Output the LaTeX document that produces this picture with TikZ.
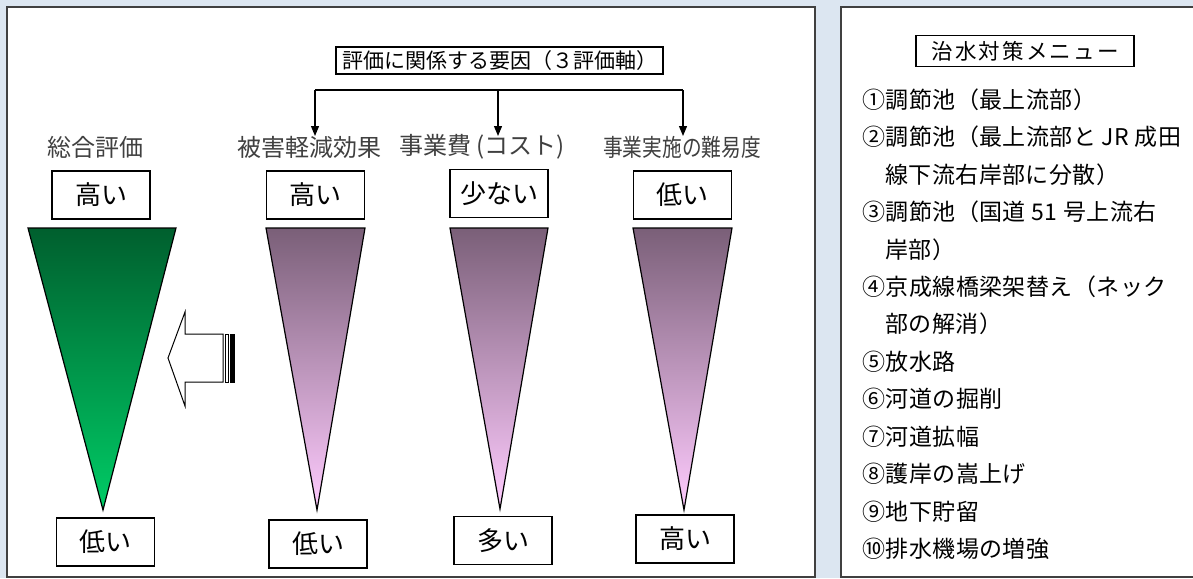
\documentclass[tikz,border=0pt]{standalone}
\usepackage{fontspec}
\setmainfont{Noto Sans CJK JP}
\newfontfamily\jpwide{Noto Sans CJK JP}[LetterSpace=10]
\newfontfamily\jplist{Noto Sans CJK JP}[LetterSpace=2]
\usetikzlibrary{arrows.meta}
\definecolor{bgblue}{HTML}{DCE6F1}
\definecolor{panelline}{HTML}{404040}
\definecolor{labelgray}{HTML}{404040}
\definecolor{gtop}{HTML}{005F2E}
\definecolor{gbot}{HTML}{00CC66}
\definecolor{ptop}{HTML}{7A5F78}
\definecolor{pbot}{HTML}{FFCCFF}
\tikzset{
  panel/.style={draw=panelline, line width=1.5pt, fill=white},
  valbox/.style={draw=black, line width=1.3pt, fill=white, minimum width=98pt, minimum height=48pt, inner sep=0pt, font=\fontsize{26}{26}\selectfont},
  hdrbox/.style={draw=black, line width=1.8pt, fill=white, inner sep=0pt},
  collabel/.style={inner sep=0pt, text=labelgray, font=\fontsize{24}{24}\selectfont},
  conn/.style={line width=1.2pt, -{Triangle[length=10pt,width=8pt]}},
  bar/.style={line width=1.2pt},
  listitem/.style={anchor=west, inner sep=0pt, font=\jplist\fontsize{23}{23}\selectfont},
  cone/.style={draw=black, line width=1.2pt},
  bigarrow/.style={draw=black, line width=1pt, fill=white},
}
\begin{document}
\begin{tikzpicture}[x=1pt, y=-1pt]
\useasboundingbox (0,0) rectangle (1193,578);
\fill[bgblue] (0,0) rectangle (1193,578);
% panels
\draw[panel] (7,7) rectangle (815,577);
\draw[panel] (1205,7) -- (841,7) -- (841,577) -- (1205,577);

% header of left panel
\node[hdrbox, minimum width=327pt, minimum height=27pt, font=\fontsize{21}{21}\selectfont] (hdr) at (499.5,60.5) {評価に関係する要因（３評価軸）};

% column labels
\node[collabel] (l0) at (95,147) {総合評価};
\node[collabel] (l1) at (309,147) {被害軽減効果};
\node[collabel] (l2) at (482,147) {事業費 (コスト)};
\node[collabel] (l3) at (682,147) {\scalebox{0.82}[1]{事業実施の難易度}};

% bracket connectors
\coordinate (bl) at (315,90);
\coordinate (bm) at (498,90);
\coordinate (br) at (683,90);
\coordinate (a1) at (315,136);
\coordinate (a2) at (498,136);
\coordinate (a3) at (683,136);
\draw[bar] (bl) -- (br);
\draw[conn] (bl) -- (a1);
\draw[conn] (bm) -- (a2);
\draw[conn] (br) -- (a3);

% top value boxes
\node[valbox] (t0) at (101,195) {高い};
\node[valbox] (t1) at (315.5,195) {高い};
\node[valbox] (t2) at (499,193.5) {少ない};
\node[valbox] (t3) at (682.5,195) {低い};

% cones
\shade[top color=gtop, bottom color=gbot] (28,228) -- (176,228) -- (103,510) -- cycle;
\draw[cone] (28,228) -- (176,228) -- (103,510) -- cycle;
\shade[top color=ptop, bottom color=pbot] (266,228) -- (365,228) -- (317,510) -- cycle;
\draw[cone] (266,228) -- (365,228) -- (317,510) -- cycle;
\shade[top color=ptop, bottom color=pbot] (450,228) -- (548,228) -- (500,509) -- cycle;
\draw[cone] (450,228) -- (548,228) -- (500,509) -- cycle;
\shade[top color=ptop, bottom color=pbot] (633,228) -- (732,228) -- (684,510) -- cycle;
\draw[cone] (633,228) -- (732,228) -- (684,510) -- cycle;

% bottom value boxes
\node[valbox] (b0) at (105.5,542) {低い};
\node[valbox] (b1) at (318,544) {低い};
\node[valbox] (b2) at (503,540.5) {多い};
\node[valbox] (b3) at (685,539) {高い};

% hollow striped arrow pointing left
\draw[bigarrow] (168,358) -- (185,312) -- (185,334) -- (223,334) -- (223,382) -- (185,382) -- (185,406) -- cycle;
\draw[line width=0.8pt, fill=white] (225.5,334) rectangle (228.5,382);
\fill[black] (230,333.5) rectangle (234.5,382.5);

% right panel
\node[hdrbox, minimum width=218pt, minimum height=31pt, font=\jpwide\fontsize{21.5}{21.5}\selectfont] (menu) at (1025,51) {治水対策メニュー};
\node[listitem] (i1) at (862,99.5) {①調節池（最上流部）};
\node[listitem] (i2) at (862,137) {②調節池（最上流部と JR 成田};
\node[listitem] (i3) at (885,174.4) {線下流右岸部に分散）};
\node[listitem] (i4) at (862,211.8) {③調節池（国道 51 号上流右};
\node[listitem] (i5) at (885,249.3) {岸部）};
\node[listitem] (i6) at (862,286.7) {④京成線橋梁架替え（ネック};
\node[listitem] (i7) at (885,324.2) {部の解消）};
\node[listitem] (i8) at (862,361.6) {⑤放水路};
\node[listitem] (i9) at (862,399.1) {⑥河道の掘削};
\node[listitem] (i10) at (862,436.5) {⑦河道拡幅};
\node[listitem] (i11) at (862,474) {⑧護岸の嵩上げ};
\node[listitem] (i12) at (862,511.4) {⑨地下貯留};
\node[listitem] (i13) at (862,548.9) {⑩排水機場の増強};
\end{tikzpicture}
\end{document}
